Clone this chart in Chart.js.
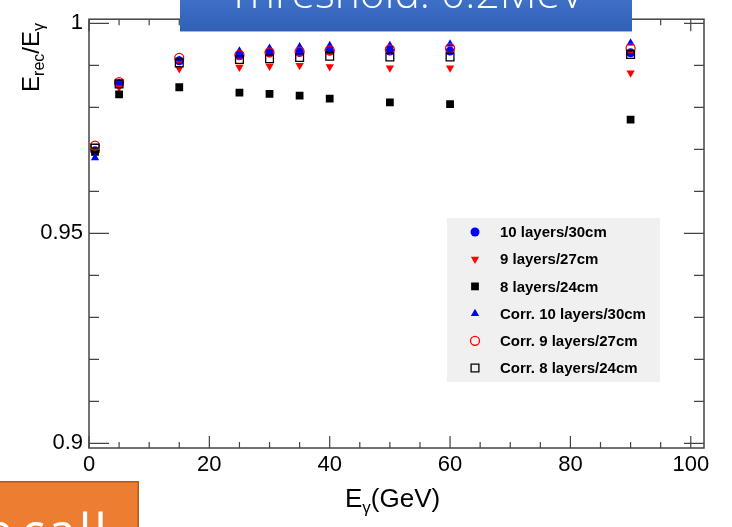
<!DOCTYPE html>
<html>
<head>
<meta charset="utf-8">
<script src="https://cdn.jsdelivr.net/npm/chart.js@4.4.1/dist/chart.umd.min.js"></script>
<style>
  body { margin: 0; background: #fff; }
  canvas { display: block; }
</style>
</head>
<body>
<canvas id="myChart" width="732" height="527"></canvas>
<script>
// photon energy (GeV)
const energy = [1, 5, 15, 25, 30, 35, 40, 50, 60, 90];

// E_rec / E_gamma for each configuration
const layers10 = [0.9697, 0.9856, 0.9911, 0.9923, 0.9930, 0.9931, 0.9934, 0.9934, 0.9934, 0.9930];
const layers9 = [0.9695, 0.9848, 0.9892, 0.9896, 0.9898, 0.9900, 0.9897, 0.9894, 0.9894, 0.9882];
const layers8 = [0.9694, 0.9831, 0.9848, 0.9835, 0.9832, 0.9828, 0.9821, 0.9812, 0.9808, 0.9771];
const corr10 = [0.9680, 0.9858, 0.9912, 0.9934, 0.9941, 0.9944, 0.9947, 0.9947, 0.9951, 0.9953];
const corr9 = [0.9709, 0.9860, 0.9918, 0.9925, 0.9931, 0.9933, 0.9936, 0.9938, 0.9941, 0.9941];
const corr8 = [0.9703, 0.9856, 0.9906, 0.9914, 0.9916, 0.9919, 0.9922, 0.9920, 0.9920, 0.9926];

const seriesNames = ['10 layers/30cm', '9 layers/27cm', '8 layers/24cm',
    'Corr. 10 layers/30cm', 'Corr. 9 layers/27cm', 'Corr. 8 layers/24cm'];

const xTicks = [0, 20, 40, 60, 80, 100];
const yTicks = [0.9, 0.95, 1];
const yTickLabels = ['0.9', '0.95', '1'];

function points(ys) {
    return energy.map((e, i) => ({ x: e, y: ys[i] }));
}

function series(label, ys, style, color, filled, radius, rotation, order) {
    return {
        label: label,
        data: points(ys),
        showLine: false,
        pointStyle: style,
        pointRadius: radius,
        pointRotation: rotation,
        pointBackgroundColor: filled ? color : 'rgba(0,0,0,0)',
        pointBorderColor: color,
        pointBorderWidth: filled ? 0 : 1.3,
        order: order
    };
}

function drawMarker(ctx, ds, x, y) {
    const r = ds.pointRadius;
    ctx.save();
    ctx.beginPath();
    if (ds.pointStyle === 'circle') {
        ctx.arc(x, y, r, 0, Math.PI * 2);
    } else if (ds.pointStyle === 'rect') {
        const s = r * Math.SQRT1_2;
        ctx.rect(x - s, y - s, 2 * s, 2 * s);
    } else {
        let rad = ds.pointRotation * Math.PI / 180;
        for (let k = 0; k < 3; k++) {
            const px = x + Math.sin(rad) * r, py = y - Math.cos(rad) * r;
            if (k === 0) ctx.moveTo(px, py); else ctx.lineTo(px, py);
            rad += Math.PI * 2 / 3;
        }
        ctx.closePath();
    }
    ctx.fillStyle = ds.pointBackgroundColor;
    ctx.fill();
    if (ds.pointBorderWidth > 0) {
        ctx.lineWidth = ds.pointBorderWidth;
        ctx.strokeStyle = ds.pointBorderColor;
        ctx.stroke();
    }
    ctx.restore();
}

// text with sub-scripts, parts: [text, size, drop]
function drawRich(ctx, parts, x, y) {
    let cx = x;
    parts.forEach(p => {
        ctx.font = p[1] + 'px "Liberation Sans", Arial, sans-serif';
        ctx.fillText(p[0], cx, y + (p[2] || 0));
        cx += ctx.measureText(p[0]).width;
    });
    return cx - x;
}
function richWidth(ctx, parts) {
    let w = 0;
    parts.forEach(p => {
        ctx.font = p[1] + 'px "Liberation Sans", Arial, sans-serif';
        w += ctx.measureText(p[0]).width;
    });
    return w;
}

const rootFrame = {
    id: 'rootFrame',
    afterDraw(chart) {
        const ctx = chart.ctx;
        const a = chart.chartArea;
        const xs = chart.scales.x, ys = chart.scales.y;
        ctx.save();
        ctx.strokeStyle = '#444';
        ctx.lineWidth = 1.5;
        ctx.strokeRect(a.left, a.top, a.right - a.left, a.bottom - a.top);

        // ticks, all pointing inwards, on both sides
        ctx.lineWidth = 1.2;
        ctx.beginPath();
        for (let v = 0; v <= 100; v += 5) {
            const px = xs.getPixelForValue(v);
            const len = v % 20 === 0 ? 12 : 6;
            ctx.moveTo(px, a.bottom); ctx.lineTo(px, a.bottom - len);
            ctx.moveTo(px, a.top); ctx.lineTo(px, a.top + len);
        }
        for (let k = 90; k <= 100; k++) {
            const py = ys.getPixelForValue(k / 100);
            const len = k % 5 === 0 ? 20 : 10;
            ctx.moveTo(a.left, py); ctx.lineTo(a.left + len, py);
            ctx.moveTo(a.right, py); ctx.lineTo(a.right - len, py);
        }
        ctx.stroke();

        // axis titles
        ctx.fillStyle = '#000';
        ctx.textBaseline = 'alphabetic';
        ctx.textAlign = 'left';
        const xTitle = [['E', 26], ['\u03b3', 17, 6], ['(GeV)', 26]];
        drawRich(ctx, xTitle, 345, 507);

        const yTitle = [['E', 24], ['rec', 16, 5], ['/E', 24], ['\u03b3', 16, 5]];
        ctx.save();
        ctx.translate(38.5, 23);
        ctx.rotate(-Math.PI / 2);
        drawRich(ctx, yTitle, -richWidth(ctx, yTitle), 0);
        ctx.restore();

        // legend box
        ctx.fillStyle = '#f0f0f0';
        ctx.fillRect(447, 218, 213, 164);
        chart.data.datasets.forEach((ds, i) => {
            const ly = 232 + i * 27.2;
            drawMarker(ctx, ds, 475, ly);
            ctx.fillStyle = '#000';
            ctx.font = 'bold 15px "Liberation Sans", Arial, sans-serif';
            ctx.textBaseline = 'middle';
            ctx.fillText(ds.label, 500, ly + 1);
        });
        ctx.restore();

        // slide overlays around the plot
        ctx.save();
        const g = ctx.createLinearGradient(0, 0, 0, 31);
        g.addColorStop(0, '#3d70c6');
        g.addColorStop(1, '#3061b8');
        ctx.fillStyle = g;
        ctx.fillRect(180, 0, 452, 31);
        ctx.fillStyle = '#9fb4e0';
        ctx.fillRect(180, 31, 452, 1);
        ctx.fillStyle = '#fff';
        ctx.textAlign = 'center';
        ctx.textBaseline = 'alphabetic';
        ctx.font = '300 40px "Open Sans", sans-serif';
        const tw = ctx.measureText('Threshold: 0.2MeV').width;
        ctx.font = '300 ' + (40 * 357 / tw).toFixed(1) + 'px "Open Sans", sans-serif';
        ctx.beginPath();
        ctx.rect(180, 0, 452, 31);
        ctx.clip();
        ctx.fillText('Threshold: 0.2MeV', 406, 8);
        ctx.restore();

        ctx.save();
        ctx.fillStyle = '#ed7d31';
        ctx.fillRect(0, 481, 139, 46);
        ctx.fillStyle = '#ae5a21';
        ctx.fillRect(0, 481, 139, 1.5);
        ctx.fillRect(137.5, 481, 1.5, 46);
        ctx.beginPath();
        ctx.rect(0, 482.5, 137.5, 45);
        ctx.clip();
        ctx.fillStyle = '#fff';
        ctx.font = '50px "Open Sans", sans-serif';
        ctx.textAlign = 'right';
        ctx.fillText('e', 13, 549);
        ctx.textAlign = 'left';
        ctx.letterSpacing = '3px';
        ctx.fillText('call', 21, 549);
        ctx.restore();
    }
};

const ctx = document.getElementById('myChart');
const myChart = new Chart(ctx, {
    type: 'scatter',
    data: {
        datasets: [
            series(seriesNames[0], layers10, 'circle', '#0000ff', true, 4.5, 0, 6),
            series(seriesNames[1], layers9, 'triangle', '#ff0000', true, 4.8, 180, 5),
            series(seriesNames[2], layers8, 'rect', '#000000', true, 5.5, 0, 4),
            series(seriesNames[3], corr10, 'triangle', '#0000ff', true, 4.8, 0, 3),
            series(seriesNames[4], corr9, 'circle', '#ff0000', false, 4.5, 0, 2),
            series(seriesNames[5], corr8, 'rect', '#000000', false, 5.5, 0, 1)
        ]
    },
    options: {
        responsive: false,
        animation: false,
        events: [],
        layout: { padding: { top: 18, right: 28, left: 0, bottom: 0 } },
        plugins: {
            legend: { display: false },
            tooltip: { enabled: false }
        },
        scales: {
            x: {
                type: 'linear',
                min: 0,
                max: 102.2,
                afterBuildTicks: scale => { scale.ticks = xTicks.map(v => ({ value: v })); },
                afterFit: scale => { scale.height = 79; },
                grid: { display: false, drawTicks: false },
                border: { display: false },
                ticks: {
                    color: '#000',
                    padding: 4,
                    maxRotation: 0,
                    font: { family: '"Liberation Sans", Arial, sans-serif', size: 22 }
                }
            },
            y: {
                type: 'linear',
                min: 0.8989,
                max: 1.001,
                afterBuildTicks: scale => { scale.ticks = yTicks.map(v => ({ value: v })); },
                afterFit: scale => { scale.width = 89; },
                grid: { display: false, drawTicks: false },
                border: { display: false },
                ticks: {
                    color: '#000',
                    padding: 6,
                    callback: v => yTickLabels[yTicks.indexOf(v)],
                    font: { family: '"Liberation Sans", Arial, sans-serif', size: 22 }
                }
            }
        }
    },
    plugins: [rootFrame]
});
</script>
</body>
</html>
